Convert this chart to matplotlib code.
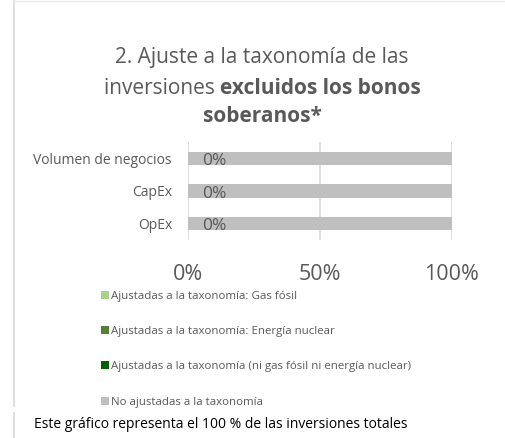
import matplotlib
matplotlib.use("Agg")
import matplotlib.pyplot as plt
from matplotlib.lines import Line2D
import numpy as np

plt.rcParams['font.family'] = ['Open Sans', 'DejaVu Sans']

categories = ["Volumen de negocios", "CapEx", "OpEx"]
series_names = [
    "Ajustadas a la taxonomía: Gas fósil",
    "Ajustadas a la taxonomía: Energía nuclear",
    "Ajustadas a la taxonomía (ni gas fósil ni energía nuclear)",
    "No ajustadas a la taxonomía",
]
gas_fosil = [0, 0, 0]
nuclear = [0, 0, 0]
ni_gas_ni_nuclear = [0, 0, 0]
no_ajustadas = [100, 100, 100]
data_labels = ["0%", "0%", "0%"]
xticks = [0, 50, 100]
xtick_labels = ["0%", "50%", "100%"]
colors = ["#A9D18E", "#548235", "#006100", "#BFBFBF"]

fig = plt.figure(figsize=(5.05, 4.38), dpi=100)
ax = fig.add_axes([0.372, 0.452, 0.523, 0.224])

y = np.arange(len(categories))
left = np.zeros(len(categories))
handles = []
for vals, name, c in zip([gas_fosil, nuclear, ni_gas_ni_nuclear, no_ajustadas], series_names, colors):
    b = ax.barh(y, vals, left=left, height=0.4, color=c, label=name, zorder=2)
    handles.append(b)
    left = left + np.array(vals)

for yi, lab in zip(y, data_labels):
    ax.text(5.5, yi + 0.08, lab, va='center', ha='left', fontsize=12.5, color='#595959', zorder=3)

ax.set_ylim(2.5, -0.5)
ax.set_xlim(0, 100)
ax.set_yticks(y)
ax.set_yticklabels(categories, fontsize=10, color='#595959')
ax.set_xticks(xticks)
ax.set_xticklabels(xtick_labels, fontsize=15.5, color='#595959')
ax.tick_params(axis='both', length=0)
ax.tick_params(axis='x', pad=17)
ax.tick_params(axis='y', pad=11.5)
for s in ax.spines.values():
    s.set_visible(False)
ax.xaxis.grid(True, color='#D9D9D9', linewidth=1.2, zorder=0)
ax.set_axisbelow(True)

title_fs = 15
fig.text(0.519, 0.868, "2. Ajuste a la taxonomía de las", ha='center', va='center', fontsize=title_fs, color='#595959')
t1 = "inversiones "
t2 = "excluidos los bonos"
txt_a = fig.text(0, 0.799, t1, ha='left', va='center', fontsize=title_fs, color='#595959')
txt_b = fig.text(0, 0.799, t2, ha='left', va='center', fontsize=title_fs, color='#595959', fontweight='bold')
fig.canvas.draw()
r = fig.canvas.get_renderer()
wa = txt_a.get_window_extent(r).width
wb = txt_b.get_window_extent(r).width
W = fig.bbox.width
x0 = 0.519 * W - (wa + wb) / 2
txt_a.set_x(x0 / W)
txt_b.set_x((x0 + wa) / W)
fig.text(0.519, 0.733, "soberanos*", ha='center', va='center', fontsize=title_fs, color='#595959', fontweight='bold')

leg = fig.legend(handles=handles, labels=series_names, loc='upper left',
                 bbox_to_anchor=(0.19, 0.347), frameon=False, fontsize=8.25,
                 labelcolor='#595959', handlelength=0.7, handleheight=0.7,
                 handletextpad=0.25, labelspacing=2.12, borderaxespad=0)

fig.text(0.068, 0.03, "Este gráfico representa el 100 % de las inversiones totales",
         ha='left', va='center', fontsize=10, color='black')

fig.add_artist(Line2D([0.028, 0.028], [0.073, 1.0], color='#D9D9D9', linewidth=1.2, transform=fig.transFigure))
fig.add_artist(Line2D([0.028, 0.028], [0.0, 0.057], color='#D9D9D9', linewidth=1.2, transform=fig.transFigure))
fig.add_artist(Line2D([0.028, 1.0], [0.998, 0.998], color='#EBEBEB', linewidth=1.0, transform=fig.transFigure))

fig.savefig("out.png", dpi=100)
